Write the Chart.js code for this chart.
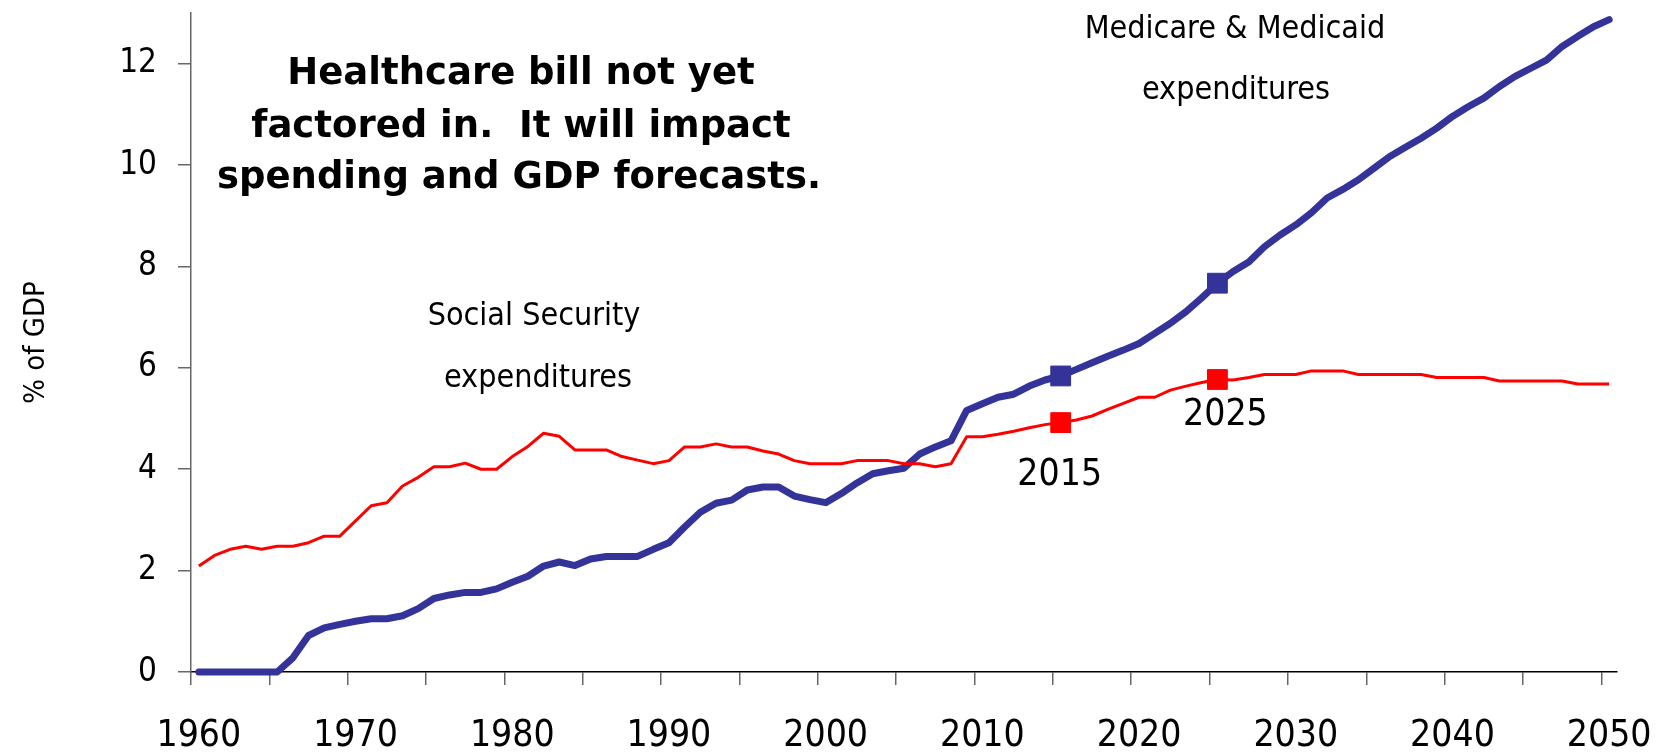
<!DOCTYPE html>
<html>
<head>
<meta charset="utf-8">
<title>Social Security and Medicare & Medicaid expenditures</title>
<script src="https://cdn.jsdelivr.net/npm/chart.js@4.4.1/dist/chart.umd.min.js"></script>
<style>
  html, body { margin: 0; padding: 0; background: #fff; }
  #wrap { width: 1659px; height: 756px; }
</style>
</head>
<body>
<div id="wrap"><canvas id="chart" width="1659" height="756"></canvas></div>
<script>
// Years on the category axis, 1960 to 2050
const years = Array.from({ length: 91 }, (_, i) => String(1960 + i));

// Social Security expenditures, % of GDP
const socialSecurity = [
  2.09, 2.30, 2.42, 2.48, 2.42, 2.48, 2.48, 2.55, 2.68, 2.68,
  2.98, 3.28, 3.34, 3.67, 3.84, 4.05, 4.05, 4.12, 4.00, 4.00,
  4.25, 4.45, 4.71, 4.65, 4.38, 4.38, 4.38, 4.25, 4.18, 4.11,
  4.17, 4.44, 4.44, 4.50, 4.44, 4.44, 4.36, 4.30, 4.17, 4.11,
  4.11, 4.11, 4.17, 4.17, 4.17, 4.11, 4.11, 4.05, 4.11, 4.64,
  4.64, 4.69, 4.75, 4.82, 4.88, 4.92, 4.97, 5.05, 5.18, 5.30,
  5.42, 5.42, 5.56, 5.64, 5.71, 5.77, 5.76, 5.81, 5.87, 5.87,
  5.87, 5.94, 5.94, 5.94, 5.87, 5.87, 5.87, 5.87, 5.87, 5.81,
  5.81, 5.81, 5.81, 5.74, 5.74, 5.74, 5.74, 5.74, 5.68, 5.68,
  5.68
];

// Medicare & Medicaid expenditures, % of GDP
const medicare = [
  0, 0, 0, 0, 0, 0, 0.28, 0.72, 0.87, 0.94,
  1.00, 1.05, 1.05, 1.11, 1.25, 1.45, 1.52, 1.57, 1.57, 1.64,
  1.77, 1.89, 2.09, 2.17, 2.10, 2.23, 2.28, 2.28, 2.28, 2.42,
  2.55, 2.86, 3.15, 3.33, 3.39, 3.59, 3.65, 3.65, 3.47, 3.40,
  3.34, 3.52, 3.73, 3.91, 3.97, 4.02, 4.30, 4.44, 4.56, 5.16,
  5.29, 5.42, 5.48, 5.64, 5.76, 5.84, 5.97, 6.10, 6.23, 6.35,
  6.48, 6.68, 6.88, 7.11, 7.38, 7.67, 7.90, 8.09, 8.39, 8.62,
  8.82, 9.06, 9.35, 9.52, 9.71, 9.94, 10.17, 10.35, 10.53, 10.73,
  10.96, 11.15, 11.32, 11.55, 11.75, 11.91, 12.07, 12.34, 12.54, 12.73,
  12.87
];

// Years that get a square marker
const markerYears = ['2015', '2025'];

// Y axis ticks
const yTicks = [0, 2, 4, 6, 8, 10, 12];

const narrow = "'DejaVu Sans Condensed', 'Liberation Sans Narrow', sans-serif";

function markerRadius(ctx) {
  return markerYears.includes(years[ctx.dataIndex]) ? 14 : 0;
}

// Free text drawn on top of the chart
const notes = [
  { text: 'Healthcare bill not yet', x: 521, y: 84, bold: true },
  { text: 'factored in.  It will impact', x: 521, y: 137, bold: true },
  { text: 'spending and GDP forecasts.', x: 519, y: 188, bold: true },
  { text: 'Social Security', x: 534, y: 325 },
  { text: 'expenditures', x: 538, y: 387 },
  { text: 'Medicare & Medicaid', x: 1235, y: 38 },
  { text: 'expenditures', x: 1236, y: 99 }
];

// Year labels next to the red markers
const markerLabels = [
  { year: '2015', dx: -1, dy: 62 },
  { year: '2025', dx: 8, dy: 45 }
];

const notesPlugin = {
  id: 'notes',
  afterDatasetsDraw(chart) {
    const c = chart.ctx;
    c.save();
    c.fillStyle = '#000';
    c.textAlign = 'center';
    c.textBaseline = 'alphabetic';
    notes.forEach(n => {
      c.font = n.bold ? "bold 37px 'DejaVu Sans', sans-serif" : '32px ' + narrow;
      c.fillText(n.text, n.x, n.y);
    });
    c.font = '37px ' + narrow;
    const xs = chart.scales.x, ys = chart.scales.y;
    markerLabels.forEach(m => {
      const i = years.indexOf(m.year);
      const px = xs.getPixelForValue(i) + m.dx;
      const py = ys.getPixelForValue(socialSecurity[i]) + m.dy;
      c.fillText(m.year, px, py);
    });
    c.restore();
  }
};

new Chart(document.getElementById('chart'), {
  type: 'line',
  data: {
    labels: years,
    datasets: [
      {
        label: 'Social Security expenditures',
        data: socialSecurity,
        borderColor: '#ff0000',
        backgroundColor: '#ff0000',
        borderWidth: 3,
        pointStyle: 'rect',
        pointRadius: markerRadius,
        pointHoverRadius: markerRadius,
        pointBorderWidth: 1,
        tension: 0,
        borderJoinStyle: 'round',
        clip: false
      },
      {
        label: 'Medicare & Medicaid expenditures',
        data: medicare,
        borderColor: '#333399',
        backgroundColor: '#333399',
        borderWidth: 7,
        borderCapStyle: 'round',
        borderJoinStyle: 'round',
        pointStyle: 'rect',
        pointRadius: markerRadius,
        pointHoverRadius: markerRadius,
        pointBorderWidth: 1,
        tension: 0,
        clip: false
      }
    ]
  },
  options: {
    responsive: false,
    animation: false,
    devicePixelRatio: 1,
    layout: { padding: { top: 13, right: 42, left: 0, bottom: 0 } },
    plugins: {
      legend: { display: false },
      tooltip: { enabled: false }
    },
    scales: {
      x: {
        type: 'category',
        offset: true,
        border: { color: '#000', width: 1.5 },
        grid: {
          offset: true,
          drawOnChartArea: false,
          drawTicks: true,
          tickLength: 13,
          lineWidth: 1.5,
          color: ctx => (ctx.index % 5 === 0 ? '#666' : 'rgba(0,0,0,0)')
        },
        ticks: {
          autoSkip: false,
          maxRotation: 0,
          minRotation: 0,
          padding: 29,
          color: '#000',
          font: { family: narrow, size: 37 },
          callback: (val, i) => (i % 10 === 0 ? years[i] : '')
        },
        afterFit: scale => {
          scale.height = 84;
          scale.paddingLeft = 0;
          scale.paddingRight = 0;
        }
      },
      y: {
        min: 0,
        max: 13,
        border: { color: '#666', width: 1.5 },
        grid: {
          drawOnChartArea: false,
          tickLength: 13,
          lineWidth: 1.5,
          color: '#666'
        },
        afterBuildTicks: scale => {
          scale.ticks = yTicks.map(v => ({ value: v }));
        },
        ticks: {
          includeBounds: false,
          padding: 21,
          color: '#000',
          font: { family: narrow, size: 33 }
        },
        title: {
          display: true,
          text: '% of GDP',
          color: '#000',
          font: { family: narrow, size: 29 },
          padding: { top: 19, bottom: 0 }
        },
        afterFit: scale => {
          scale.width = 191;
          scale.paddingTop = 0;
          scale.paddingBottom = 0;
        }
      }
    }
  },
  plugins: [notesPlugin]
});
</script>
</body>
</html>
